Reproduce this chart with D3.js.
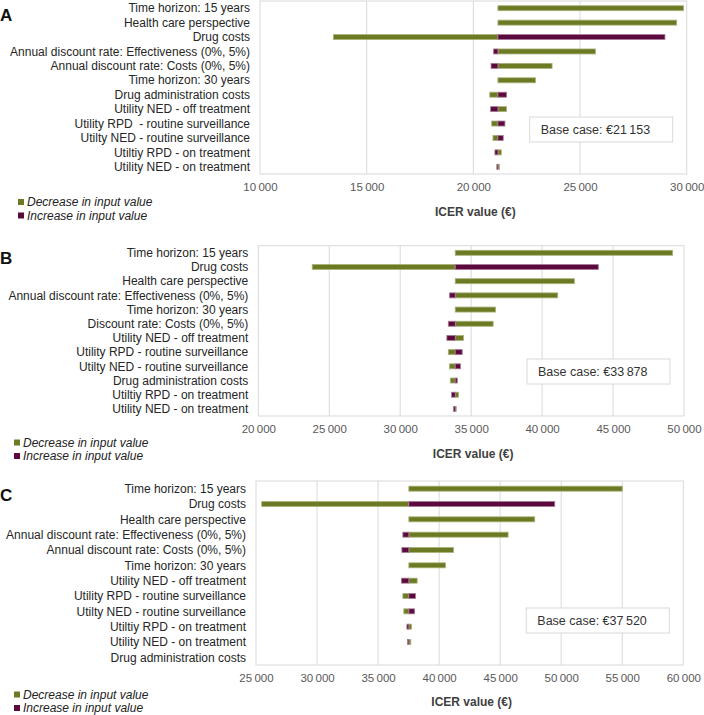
<!DOCTYPE html>
<html>
<head>
<meta charset="utf-8">
<script src="https://cdn.jsdelivr.net/npm/d3@7"></script>
<style>
  body { margin: 0; background: #fff; }
  svg { display: block; font-family: "Liberation Sans", Arial, sans-serif; }
</style>
</head>
<body>
<svg id="graphic" width="704" height="715"></svg>
<script>
// panel A
var categoriesA = ["Time horizon: 15 years", "Health care perspective", "Drug costs",
  "Annual discount rate: Effectiveness (0%, 5%)", "Annual discount rate: Costs (0%, 5%)",
  "Time horizon: 30 years", "Drug administration costs", "Utility NED - off treatment",
  "Utility RPD  - routine surveillance", "Utilty NED - routine surveillance",
  "Utiltiy RPD - on treatment", "Utility NED - on treatment"];
var baseA = 21153;
var decreaseA = [29850, 29530, 13440, 25720, 23690, 22910, 20770, 21550, 20860, 20920, 21310, 21220];
var increaseA = [21153, 21153, 28980, 20950, 20830, 21153, 21560, 20810, 21480, 21400, 21010, 21100];
var ticksA = [10000, 15000, 20000, 25000, 30000];

// panel B
var categoriesB = ["Time horizon: 15 years", "Drug costs", "Health care perspective",
  "Annual discount rate: Effectiveness (0%, 5%)", "Time horizon: 30 years",
  "Discount rate: Costs (0%, 5%)", "Utility NED - off treatment",
  "Utility RPD - routine surveillance", "Utilty NED - routine surveillance",
  "Drug administration costs", "Utiltiy RPD - on treatment", "Utility NED - on treatment"];
var baseB = 33878;
var decreaseB = [49200, 23800, 42270, 41100, 36720, 36550, 34460, 33390, 33480, 33530, 34110, 33950];
var increaseB = [33878, 43960, 33878, 33480, 33878, 33390, 33290, 34370, 34250, 34020, 33620, 33760];
var ticksB = [20000, 25000, 30000, 35000, 40000, 45000, 50000];

// panel C
var categoriesC = ["Time horizon: 15 years", "Drug costs", "Health care perspective",
  "Annual discount rate: Effectiveness (0%, 5%)", "Annual discount rate: Costs (0%, 5%)",
  "Time horizon: 30 years", "Utility NED - off treatment",
  "Utility RPD - routine surveillance", "Utilty NED - routine surveillance",
  "Utiltiy RPD - on treatment", "Utility NED - on treatment", "Drug administration costs"];
var baseC = 37520;
var decreaseC = [55000, 25470, 47830, 45650, 41180, 40520, 38200, 37030, 37110, 37740, 37680, 37520];
var increaseC = [37520, 49470, 37520, 37030, 36950, 37520, 36920, 38070, 37990, 37360, 37410, 37520];
var ticksC = [25000, 30000, 35000, 40000, 45000, 50000, 55000, 60000];

var legendLabels = ["Decrease in input value", "Increase in input value"];
var green = "#6b7a23";
var purple = "#5c0a3d";

var nf = d3.formatLocale({ decimal: ".", thousands: "\u2009", grouping: [3], currency: ["€", ""] });
var fmt = nf.format(",");

var svg = d3.select("#graphic");

function drawPanel(p) {
  var g = svg.append("g");

  var x = d3.scaleLinear()
    .domain([p.ticks[0], p.ticks[p.ticks.length - 1]])
    .range([p.left, p.right]);
  var y = d3.scaleBand()
    .domain(p.categories)
    .range([p.top, p.bottom])
    .paddingInner(0.64)
    .paddingOuter(0.32);

  // plot area border + grid
  g.append("rect")
    .attr("x", p.left).attr("y", p.top)
    .attr("width", p.right - p.left).attr("height", p.bottom - p.top)
    .attr("fill", "none").attr("stroke", "#d9d9d9");

  g.append("g")
    .selectAll("line")
    .data(p.ticks.slice(1, -1))
    .enter()
    .append("line")
    .attr("x1", (d) => x(d)).attr("x2", (d) => x(d))
    .attr("y1", p.top).attr("y2", p.bottom)
    .attr("stroke", "#d9d9d9");

  // x axis labels
  var axis = g.append("g")
    .attr("transform", "translate(0," + p.bottom + ")")
    .call(d3.axisBottom(x).tickValues(p.ticks).tickFormat(fmt).tickSize(0).tickPadding(9));
  axis.select(".domain").remove();
  axis.selectAll("text")
    .attr("font-size", 11.5)
    .attr("font-family", "Liberation Sans, Arial, sans-serif")
    .attr("fill", "#595959");

  g.append("text")
    .attr("x", (p.left + p.right) / 2 + 2)
    .attr("y", p.bottom + p.titleOffset)
    .attr("text-anchor", "middle")
    .attr("font-size", 12)
    .attr("font-weight", "bold")
    .attr("fill", "#404040")
    .text("ICER value (€)");

  // category labels
  g.append("g")
    .selectAll("text")
    .data(p.categories)
    .enter()
    .append("text")
    .attr("x", p.left - 10)
    .attr("y", (d) => y(d) + y.bandwidth() / 2)
    .attr("dy", "0.35em")
    .attr("text-anchor", "end")
    .attr("font-size", 12)
    .attr("fill", "#262626")
    .style("white-space", "pre")
    .text((d) => d);

  // bars: decrease (green) and increase (purple), each drawn from base case
  var rows = p.categories.map((c, i) => ({ cat: c, dec: p.decrease[i], inc: p.increase[i] }));
  var bh = 5;

  [["dec", green, "#a9b27a"], ["inc", purple, "#a77a96"]].forEach((s) => {
    g.append("g")
      .selectAll("rect")
      .data(rows)
      .enter()
      .append("rect")
      .attr("x", (d) => x(Math.min(d[s[0]], p.base)))
      .attr("y", (d) => y(d.cat) + y.bandwidth() / 2 - bh / 2)
      .attr("width", (d) => Math.abs(x(d[s[0]]) - x(p.base)))
      .attr("height", bh)
      .attr("fill", s[1])
      .attr("stroke", (d) => (d[s[0]] == p.base ? "none" : s[2]))
      .attr("stroke-width", 0.8);
  });

  // base case box
  var bx = p.right - 157, by = p.bottom - 57;
  g.append("rect")
    .attr("x", bx).attr("y", by)
    .attr("width", 143).attr("height", 25)
    .attr("fill", "#fff").attr("stroke", "#d9d9d9");
  g.append("text")
    .attr("x", bx + 11).attr("y", by + 17)
    .attr("font-size", 12.5)
    .attr("fill", "#333")
    .text("Base case: €" + fmt(p.base));

  // panel letter
  g.append("text")
    .attr("x", 0).attr("y", p.letterY)
    .attr("font-size", 17)
    .attr("font-weight", "bold")
    .attr("fill", "#111")
    .text(p.letter);

  // legend
  var lg = g.append("g")
    .selectAll("g")
    .data(legendLabels)
    .enter()
    .append("g")
    .attr("transform", (d, i) => "translate(" + p.legendX + "," + (p.legendY + i * 13.5) + ")");
  lg.append("rect")
    .attr("x", 0).attr("y", -3)
    .attr("width", 6).attr("height", 6)
    .attr("fill", (d, i) => (i == 0 ? green : purple));
  lg.append("text")
    .attr("x", 9)
    .attr("dy", "0.35em")
    .attr("font-size", 12)
    .attr("font-style", "italic")
    .attr("fill", "#222")
    .text((d) => d);
}

drawPanel({
  letter: "A", letterY: 21,
  categories: categoriesA, decrease: decreaseA, increase: increaseA, base: baseA, ticks: ticksA,
  left: 260, right: 686.7, top: 1, bottom: 174, titleOffset: 42,
  legendX: 18, legendY: 202
});
drawPanel({
  letter: "B", letterY: 264,
  categories: categoriesB, decrease: decreaseB, increase: increaseB, base: baseB, ticks: ticksB,
  left: 258.3, right: 684, top: 245.7, bottom: 416, titleOffset: 42,
  legendX: 14, legendY: 442.5
});
drawPanel({
  letter: "C", letterY: 501,
  categories: categoriesC, decrease: decreaseC, increase: increaseC, base: baseC, ticks: ticksC,
  left: 256, right: 683.3, top: 481, bottom: 665, titleOffset: 41,
  legendX: 14, legendY: 694.5
});
</script>
</body>
</html>
